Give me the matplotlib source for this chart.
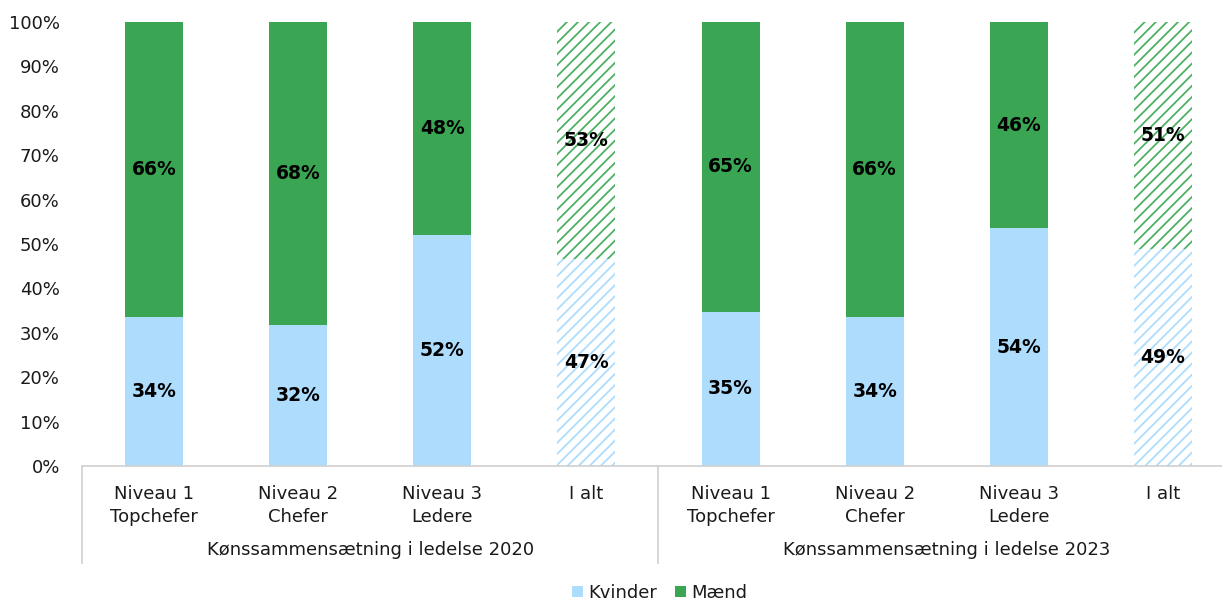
import matplotlib
matplotlib.use("Agg")
import matplotlib.pyplot as plt
import numpy as np
from matplotlib.transforms import blended_transform_factory
from matplotlib.patches import Patch

categories = ["Niveau 1\nTopchefer", "Niveau 2\nChefer", "Niveau 3\nLedere", "I alt",
              "Niveau 1\nTopchefer", "Niveau 2\nChefer", "Niveau 3\nLedere", "I alt"]
groups = ["Kønssammensætning i ledelse 2020", "Kønssammensætning i ledelse 2023"]
kvinder = [33.6, 31.8, 52.0, 46.6, 34.7, 33.6, 53.6, 48.9]
maend = [100 - v for v in kvinder]
hatched = [False, False, False, True, False, False, False, True]

BLUE = "#ADDCFD"
GREEN = "#3AA553"
W, H = 1222, 601
plt.rcParams['hatch.linewidth'] = 1.3
fig = plt.figure(figsize=(W / 100, H / 100), dpi=100)
left, right = 82, 1222
top, bottom = 22, 466
ax = fig.add_axes([left / W, 1 - bottom / H, (right - left) / W, (bottom - top) / H])

x = np.arange(len(categories))
bw = 58 / 144.3
for i in x:
    if hatched[i]:
        ax.bar(i, kvinder[i], bw, color="white", edgecolor=BLUE, hatch="///", linewidth=0)
        ax.bar(i, maend[i], bw, bottom=kvinder[i], color="white", edgecolor="#4DB065", hatch="///", linewidth=0)
    else:
        ax.bar(i, kvinder[i], bw, color=BLUE, linewidth=0)
        ax.bar(i, maend[i], bw, bottom=kvinder[i], color=GREEN, linewidth=0)
    ax.text(i, kvinder[i] / 2, f"{round(kvinder[i])}%", ha="center", va="center",
            fontsize=13.5, fontweight="bold", color="black")
    ax.text(i, kvinder[i] + maend[i] / 2, f"{round(maend[i])}%", ha="center", va="center",
            fontsize=13.5, fontweight="bold", color="black")

ax.set_xlim(-0.5, 7.5 - 13 / 144.3)
ax.set_ylim(0, 100)
ax.set_yticks(np.arange(0, 101, 10))
ax.set_yticklabels([f"{v}%" for v in range(0, 101, 10)], fontsize=13, color="#1a1a1a")
ax.set_xticks(x)
ax.set_xticklabels(categories, fontsize=13, color="#1a1a1a", linespacing=1.3)
ax.tick_params(axis="both", length=0)
ax.tick_params(axis="x", pad=14)
ax.tick_params(axis="y", pad=16)
for s in ["top", "right", "left"]:
    ax.spines[s].set_visible(False)
ax.spines["bottom"].set_color("#D0D0D0")
ax.spines["bottom"].set_linewidth(1.2)

trans = blended_transform_factory(ax.transData, fig.transFigure)
sep_y0 = 1 - 466 / H
sep_y1 = 1 - 563 / H
for xs in [-0.5, 3.5]:
    ax.plot([xs, xs], [sep_y0, sep_y1], transform=trans, color="#D0D0D0", lw=1.2, clip_on=False)
for gi, g in enumerate(groups):
    ax.text(1.5 + 4 * gi, 1 - 550 / H, g, transform=trans, ha="center", va="center",
            fontsize=13, color="#1a1a1a")

handles = [Patch(facecolor=BLUE, label="Kvinder"), Patch(facecolor=GREEN, label="Mænd")]
fig.legend(handles=handles, loc="center", bbox_to_anchor=(660 / W, 1 - 593 / H), ncol=2,
           frameon=False, fontsize=13, handlelength=0.6, handleheight=0.6,
           handletextpad=0.3, columnspacing=1.0, labelcolor="#1a1a1a")

fig.savefig("out.png", dpi=100)
